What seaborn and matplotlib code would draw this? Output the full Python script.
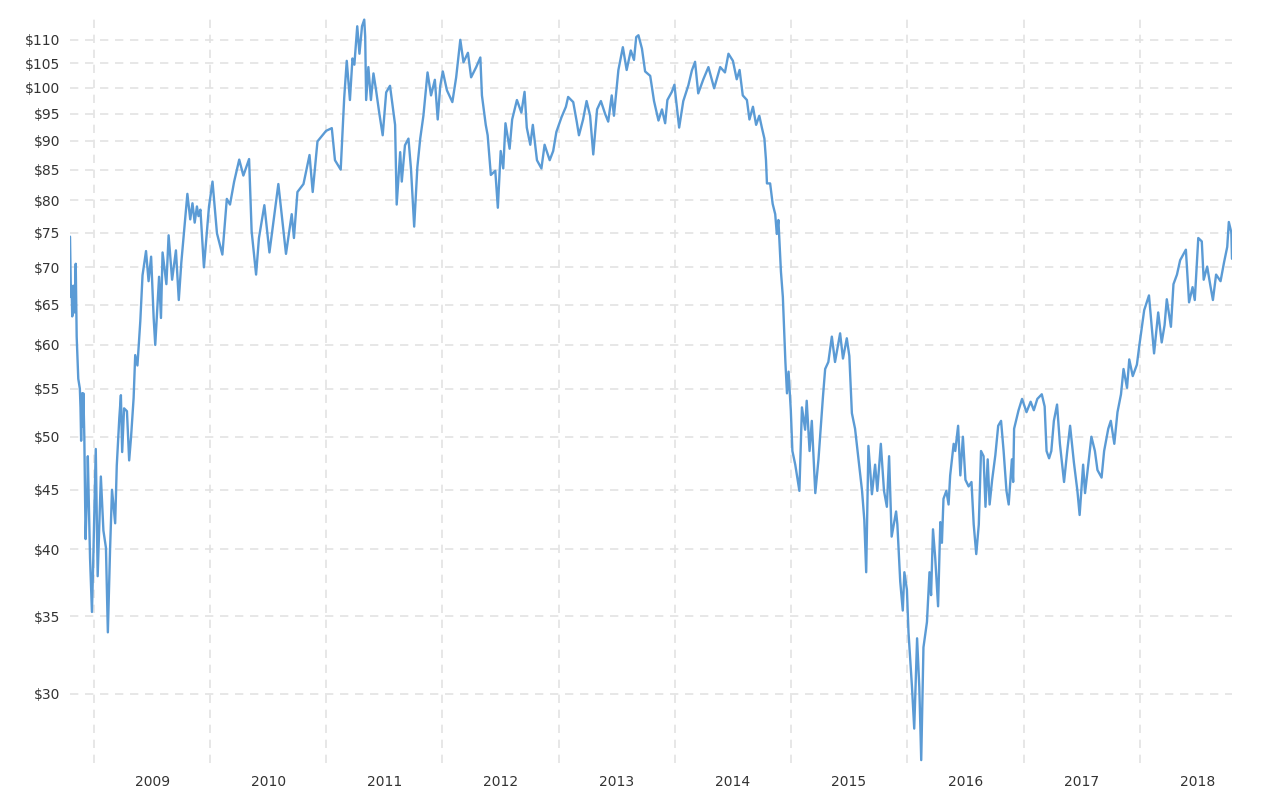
import pandas as pd
import numpy as np
import matplotlib
matplotlib.use("Agg")
import matplotlib.pyplot as plt
import matplotlib.dates as mdates
from matplotlib.ticker import FixedLocator, FuncFormatter, NullLocator, NullFormatter
import seaborn as sns

# crude oil price (WTI, USD per barrel)
dates = [
    "2008-10-17", "2008-10-20", "2008-10-22", "2008-10-24", "2008-10-27", "2008-10-29", "2008-10-31",
    "2008-11-04", "2008-11-07", "2008-11-12", "2008-11-17", "2008-11-19", "2008-11-21", "2008-11-24",
    "2008-11-26", "2008-11-28", "2008-12-01", "2008-12-05", "2008-12-08", "2008-12-10", "2008-12-12",
    "2008-12-19", "2008-12-25", "2008-12-29",
    "2009-01-06", "2009-01-12", "2009-01-22", "2009-01-30", "2009-02-07", "2009-02-13", "2009-02-20",
    "2009-02-26", "2009-03-08", "2009-03-13", "2009-03-21", "2009-03-26", "2009-03-30", "2009-04-05",
    "2009-04-14", "2009-04-21", "2009-04-27", "2009-05-05", "2009-05-10", "2009-05-17", "2009-05-26",
    "2009-06-02", "2009-06-13", "2009-06-21", "2009-06-29", "2009-07-07", "2009-07-12", "2009-07-24",
    "2009-07-30", "2009-08-04", "2009-08-16", "2009-08-23", "2009-09-03", "2009-09-15", "2009-09-24",
    "2009-10-02", "2009-10-14", "2009-10-21", "2009-10-30", "2009-11-06", "2009-11-13", "2009-11-20",
    "2009-11-25", "2009-12-01", "2009-12-12", "2009-12-28",
    "2010-01-08", "2010-01-22", "2010-02-08", "2010-02-22", "2010-03-04", "2010-03-17", "2010-04-02",
    "2010-04-15", "2010-05-03", "2010-05-11", "2010-05-25", "2010-06-03", "2010-06-20", "2010-07-06",
    "2010-08-03", "2010-08-27", "2010-09-14", "2010-09-21", "2010-10-02", "2010-10-21", "2010-11-09",
    "2010-11-19", "2010-12-04", "2010-12-31",
    "2011-01-18", "2011-01-28", "2011-02-15", "2011-02-26", "2011-03-06", "2011-03-16", "2011-03-24",
    "2011-03-30", "2011-04-08", "2011-04-15", "2011-04-23", "2011-04-30", "2011-05-03", "2011-05-06",
    "2011-05-13", "2011-05-21", "2011-05-29", "2011-06-06", "2011-06-16", "2011-06-27", "2011-07-08",
    "2011-07-20", "2011-08-05", "2011-08-10", "2011-08-21", "2011-08-26", "2011-09-05", "2011-09-16",
    "2011-09-24", "2011-10-04", "2011-10-14", "2011-10-23", "2011-11-02", "2011-11-15", "2011-11-26",
    "2011-12-08", "2011-12-17", "2011-12-25",
    "2012-01-02", "2012-01-15", "2012-02-01", "2012-02-13", "2012-02-26", "2012-03-07", "2012-03-21",
    "2012-03-31", "2012-04-16", "2012-04-29", "2012-05-04", "2012-05-16", "2012-05-22", "2012-06-01",
    "2012-06-15", "2012-06-23", "2012-07-02", "2012-07-10", "2012-07-17", "2012-07-30", "2012-08-07",
    "2012-08-22", "2012-09-05", "2012-09-15", "2012-09-22", "2012-10-03", "2012-10-11", "2012-10-24",
    "2012-11-07", "2012-11-17", "2012-12-03", "2012-12-14", "2012-12-24",
    "2013-01-09", "2013-01-23", "2013-01-30", "2013-02-15", "2013-02-26", "2013-03-05", "2013-03-18",
    "2013-03-29", "2013-04-09", "2013-04-19", "2013-05-01", "2013-05-13", "2013-05-26", "2013-06-05",
    "2013-06-16", "2013-06-23", "2013-07-07", "2013-07-21", "2013-08-02", "2013-08-15", "2013-08-25",
    "2013-09-01", "2013-09-08", "2013-09-19", "2013-09-29", "2013-10-15", "2013-10-27", "2013-11-10",
    "2013-11-21", "2013-12-01", "2013-12-08", "2013-12-22", "2013-12-30",
    "2014-01-14", "2014-01-27", "2014-02-12", "2014-02-23", "2014-03-05", "2014-03-15", "2014-03-31",
    "2014-04-16", "2014-05-04", "2014-05-23", "2014-06-07", "2014-06-18", "2014-07-02", "2014-07-14",
    "2014-07-23", "2014-08-02", "2014-08-15", "2014-08-23", "2014-09-03", "2014-09-13", "2014-09-23",
    "2014-10-01", "2014-10-09", "2014-10-14", "2014-10-17", "2014-10-27", "2014-11-04", "2014-11-12",
    "2014-11-17", "2014-11-22", "2014-11-30", "2014-12-06", "2014-12-14", "2014-12-19", "2014-12-24",
    "2014-12-31",
    "2015-01-05", "2015-01-14", "2015-01-27", "2015-02-04", "2015-02-14", "2015-02-19", "2015-02-28",
    "2015-03-07", "2015-03-18", "2015-03-28", "2015-04-04", "2015-04-11", "2015-04-18", "2015-04-28",
    "2015-05-09", "2015-05-19", "2015-06-04", "2015-06-13", "2015-06-25", "2015-07-03", "2015-07-11",
    "2015-07-21", "2015-08-01", "2015-08-12", "2015-08-19", "2015-08-25", "2015-09-01", "2015-09-12",
    "2015-09-22", "2015-09-29", "2015-10-10", "2015-10-20", "2015-10-29", "2015-11-05", "2015-11-13",
    "2015-11-27", "2015-12-01", "2015-12-10", "2015-12-18", "2015-12-23", "2015-12-31",
    "2016-01-05", "2016-01-16", "2016-01-23", "2016-02-01", "2016-02-08", "2016-02-14", "2016-02-21",
    "2016-03-03", "2016-03-11", "2016-03-16", "2016-03-22", "2016-03-29", "2016-04-07", "2016-04-14",
    "2016-04-19", "2016-04-24", "2016-05-03", "2016-05-10", "2016-05-15", "2016-05-26", "2016-05-31",
    "2016-06-09", "2016-06-16", "2016-06-24", "2016-07-02", "2016-07-12", "2016-07-21", "2016-07-28",
    "2016-08-05", "2016-08-13", "2016-08-20", "2016-08-28", "2016-09-03", "2016-09-10", "2016-09-16",
    "2016-09-24", "2016-10-04", "2016-10-13", "2016-10-22", "2016-10-30", "2016-11-08", "2016-11-15",
    "2016-11-20", "2016-11-25", "2016-11-29", "2016-12-02", "2016-12-16", "2016-12-27",
    "2017-01-10", "2017-01-23", "2017-02-02", "2017-02-13", "2017-02-27", "2017-03-08", "2017-03-14",
    "2017-03-22", "2017-03-29", "2017-04-06", "2017-04-16", "2017-04-25", "2017-05-08", "2017-05-18",
    "2017-05-27", "2017-06-08", "2017-06-19", "2017-06-26", "2017-07-07", "2017-07-13", "2017-07-24",
    "2017-08-02", "2017-08-13", "2017-08-21", "2017-09-03", "2017-09-11", "2017-09-24", "2017-10-02",
    "2017-10-13", "2017-10-23", "2017-11-03", "2017-11-11", "2017-11-22", "2017-11-29", "2017-12-10",
    "2017-12-23",
    "2018-01-01", "2018-01-15", "2018-01-30", "2018-02-15", "2018-02-28", "2018-03-11", "2018-03-20",
    "2018-03-27", "2018-04-09", "2018-04-17", "2018-04-28", "2018-05-08", "2018-05-26", "2018-06-05",
    "2018-06-16", "2018-06-23", "2018-07-04", "2018-07-15", "2018-07-21", "2018-08-01", "2018-08-11",
    "2018-08-19", "2018-08-29", "2018-09-12", "2018-09-23", "2018-10-03", "2018-10-08", "2018-10-16",
    "2018-10-18",
]

prices = [
    74.4, 66.0, 67.5, 63.5, 64.5, 67.5, 64.0,
    70.5, 61.0, 56.1, 55.0, 53.0, 49.6, 54.5,
    51.0, 54.5, 50.0, 40.8, 43.5, 44.0, 48.1,
    39.3, 35.3, 39.0,
    48.8, 37.9, 46.2, 41.5, 40.1, 33.9, 40.0,
    45.0, 42.1, 47.2, 51.9, 54.3, 48.5, 52.9,
    52.6, 47.7, 50.0, 54.0, 58.8, 57.6, 62.9,
    68.9, 72.3, 68.1, 71.5, 63.3, 60.0, 68.7,
    63.3, 72.1, 67.7, 74.6, 68.3, 72.4, 65.6,
    70.7, 77.0, 81.0, 77.0, 79.5, 76.5, 79.0,
    77.5, 78.5, 70.0, 79.0,
    83.0, 74.9, 71.8, 80.2, 79.3, 83.0, 86.7,
    84.0, 86.8, 75.2, 69.0, 74.2, 79.2, 72.1,
    82.6, 71.9, 77.8, 74.2, 81.3, 82.6, 87.5,
    81.3, 89.9, 91.8,
    92.3, 86.6, 85.0, 98.0, 105.5, 97.6, 106.0,
    104.7, 113.0, 107.0, 113.0, 114.5, 110.7, 97.6,
    104.2, 97.6, 102.9, 99.6, 95.2, 91.0, 99.1,
    100.4, 92.9, 79.3, 88.0, 83.0, 89.2, 90.4,
    85.1, 75.9, 85.4, 90.4, 94.6, 103.1, 98.5,
    101.6, 93.9, 100.4,
    103.3, 99.5, 97.2, 102.1, 110.0, 105.2, 107.2,
    102.1, 104.2, 106.2, 98.5, 92.9, 91.0, 84.1,
    84.8, 78.8, 88.2, 85.2, 93.2, 88.6, 93.9,
    97.6, 95.2, 99.2, 92.4, 89.3, 92.9, 86.6,
    85.2, 89.3, 86.6, 88.2, 91.6,
    94.3, 96.3, 98.2, 97.2, 93.5, 91.0, 93.9,
    97.4, 94.6, 87.6, 95.8, 97.4, 95.0, 93.5,
    98.5, 94.6, 103.6, 108.4, 103.6, 107.7, 105.7,
    110.6, 111.0, 108.1, 103.3, 102.4, 97.4, 93.7,
    95.8, 93.2, 97.6, 99.2, 100.6,
    92.4, 97.4, 100.5, 103.5, 105.3, 98.9, 101.7,
    104.2, 99.9, 104.2, 103.1, 107.0, 105.5, 101.7,
    103.6, 98.5, 97.6, 93.9, 96.3, 92.9, 94.6,
    92.4, 90.4, 86.6, 82.7, 82.7, 79.4, 77.8,
    74.8, 76.9, 69.4, 66.0, 58.0, 54.5, 56.9,
    52.7,
    48.6, 47.3, 44.9, 53.0, 50.7, 53.7, 48.6,
    51.6, 44.7, 47.8, 50.8, 54.1, 57.2, 58.0,
    61.0, 58.0, 61.4, 58.4, 60.8, 58.7, 52.4,
    50.8, 47.8, 44.9, 42.4, 38.2, 49.1, 44.6,
    47.3, 44.9, 49.3, 44.9, 43.5, 48.1, 41.0,
    43.1, 42.0, 37.5, 35.4, 38.2, 36.9,
    33.9, 30.4, 28.0, 33.5, 30.4, 26.3, 32.9,
    34.6, 38.2, 36.5, 41.6, 39.3, 35.7, 42.2,
    40.5, 44.2, 44.9, 43.7, 46.3, 49.3, 48.6,
    51.1, 46.3, 50.0, 45.9, 45.3, 45.7, 42.0,
    39.6, 42.0, 48.6, 48.1, 43.5, 47.8, 43.7,
    45.9, 48.2, 51.1, 51.6, 48.6, 44.9, 43.7,
    45.7, 47.8, 45.7, 50.8, 52.7, 53.9,
    52.5, 53.6, 52.7, 53.9, 54.4, 53.1, 48.6,
    47.9, 48.6, 51.6, 53.3, 49.3, 45.7, 48.6,
    51.1, 47.5, 44.9, 42.8, 47.3, 44.7, 47.5,
    50.0, 48.6, 46.8, 46.1, 48.6, 50.8, 51.6,
    49.3, 52.5, 54.4, 57.2, 55.1, 58.3, 56.4,
    57.7,
    60.3, 64.3, 66.2, 59.0, 64.0, 60.3, 62.4,
    65.7, 62.2, 67.7, 69.0, 71.0, 72.5, 65.3,
    67.3, 65.6, 74.2, 73.7, 68.3, 70.1, 67.5,
    65.6, 69.0, 68.1, 70.7, 72.9, 76.6, 75.0,
    71.2,
]

y_ticks = [30, 35, 40, 45, 50, 55, 60, 65, 70, 75, 80, 85, 90, 95, 100, 105, 110]
years = list(range(2009, 2019))

df = pd.DataFrame({"date": pd.to_datetime(dates), "price": prices})

sns.set_style("white")
plt.rcParams["font.family"] = ["DejaVu Sans"]

fig = plt.figure(figsize=(12.8, 7.9), dpi=100)
ax = fig.add_axes([70 / 1280, 1 - 763 / 790, 1162 / 1280, 746 / 790])

sns.lineplot(data=df, x="date", y="price", ax=ax, color="#5b9bd5", linewidth=1.7)

ax.set_yscale("log")
ax.set_ylim(26.15, 115.1)
ax.set_xlim(df["date"].min(), df["date"].max())

ax.yaxis.set_major_locator(FixedLocator(y_ticks))
ax.yaxis.set_major_formatter(FuncFormatter(lambda v, p: f"${v:.0f}"))
ax.yaxis.set_minor_locator(NullLocator())
ax.yaxis.set_minor_formatter(NullFormatter())

# year boundaries carry the gridlines, mid-year carries the label
ax.xaxis.set_major_locator(FixedLocator([mdates.date2num(pd.Timestamp(f"{y}-01-01")) for y in years]))
ax.xaxis.set_major_formatter(NullFormatter())
ax.xaxis.set_minor_locator(FixedLocator([mdates.date2num(pd.Timestamp(f"{y}-07-02")) for y in years]))
ax.xaxis.set_minor_formatter(FixedFormatter := FuncFormatter(lambda v, p: str(mdates.num2date(v).year)))

ax.grid(True, which="major", color="#e3e3e3", linestyle=(0, (5, 4)), linewidth=1.2)
ax.set_axisbelow(True)
for s in ax.spines.values():
    s.set_visible(False)

ax.tick_params(axis="both", which="both", length=0, labelsize=10, colors="#333333")
ax.tick_params(axis="y", pad=7)
ax.tick_params(axis="x", which="minor", pad=9)
ax.set_xlabel("")
ax.set_ylabel("")

fig.savefig("out.png", dpi=100, facecolor="white")
